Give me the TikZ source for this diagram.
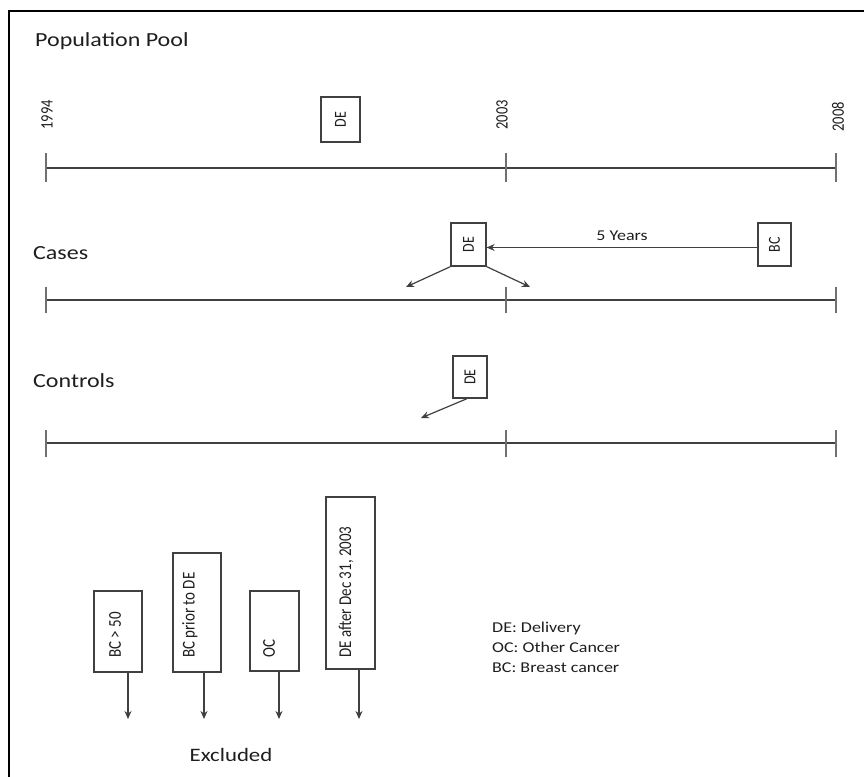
\documentclass[tikz,border=0pt]{standalone}
\usepackage{fontspec}
\setmainfont{Carlito}
\usetikzlibrary{arrows.meta}
\definecolor{ink}{HTML}{1E1E1E}
\definecolor{linec}{HTML}{404040}
\definecolor{tickc}{HTML}{707070}
\newcommand{\hx}[1]{\scalebox{1.2}[1]{#1}}
\newcommand{\vx}[1]{\scalebox{1}[1.2]{#1}}
\begin{document}
\begin{tikzpicture}[x=1pt,y=-1pt,
  lbl/.style={anchor=base west, inner sep=0, text=ink, font=\fontsize{20}{24}\selectfont},
  yearlbl/.style={rotate=90, inner sep=0, text=ink, font=\fontsize{14.5}{16}\selectfont},
  axis/.style={draw=linec, line width=1.5},
  tickmark/.style={draw=tickc, line width=2},
  ebox/.style={draw=linec, line width=1.3, rotate=90, inner sep=0, text=ink, font=\fontsize{14}{16}\selectfont},
  xbox/.style={draw=linec, line width=1.3, inner sep=0},
  xtext/.style={rotate=90, anchor=west, inner sep=0, text=ink, font=\fontsize{15}{17}\selectfont},
  arr/.style={draw=linec, line width=1.2, -{Stealth[length=8pt,width=7pt]}},
]
\useasboundingbox (0,0) rectangle (864,776);
\draw[line width=2.5, black] (9,11) rectangle (880,800);

% titles
\node[lbl] (pp) at (35,47) {\hx{Population Pool}};
\node[lbl] (cs) at (33,259) {\hx{Cases}};
\node[lbl] (ct) at (33,387) {\hx{Controls}};

% timeline 1
\coordinate (a1) at (46,168); \coordinate (b1) at (836,168);
\draw[axis] (a1) -- (b1);
\draw[tickmark] (46,153) -- (46,182);
\draw[tickmark] (506,153) -- (506,182);
\draw[tickmark] (836,153) -- (836,182);
\node[yearlbl] (y1) at (47,115) {\vx{1994}};
\node[yearlbl] (y2) at (502,115) {\vx{2003}};
\node[yearlbl] (y3) at (838,117) {\vx{2008}};
\node[ebox, minimum width=45, minimum height=39] (de1) at (340.5,119.5) {\vx{DE}};

% timeline 2
\coordinate (a2) at (46,300); \coordinate (b2) at (836,300);
\draw[axis] (a2) -- (b2);
\draw[tickmark] (46,287) -- (46,313);
\draw[tickmark] (506,287) -- (506,313);
\draw[tickmark] (836,287) -- (836,313);
\node[ebox, minimum width=43, minimum height=35] (de2) at (468.5,244.5) {\vx{DE}};
\node[ebox, minimum width=43, minimum height=33] (bc) at (774.5,244.5) {\vx{BC}};
% rotated boxes: north = visual left, south = visual right, west = visual bottom
\draw[arr] ([yshift=-3pt]bc.north) -- node[above=6pt, inner sep=0, text=ink, font=\fontsize{15}{17}\selectfont] (yrs) {\hx{5 Years}} ([yshift=-3pt]de2.south);
\coordinate (c1) at (406,287);
\coordinate (c2) at (530,287);
\draw[arr] (de2.north west) -- (c1);
\draw[arr] (de2.south west) -- (c2);

% timeline 3
\coordinate (a3) at (46,443); \coordinate (b3) at (836,443);
\draw[axis] (a3) -- (b3);
\draw[tickmark] (46,430) -- (46,457);
\draw[tickmark] (506,430) -- (506,457);
\draw[tickmark] (836,430) -- (836,457);
\node[ebox, minimum width=42, minimum height=34] (de3) at (470,377) {\vx{DE}};
\coordinate (c3) at (421,418);
\draw[arr] ([xshift=-3pt]de3.west) -- (c3);

% excluded
\node[xbox, minimum width=48, minimum height=81] (x1) at (118,631.5) {};
\node[xbox, minimum width=48, minimum height=119] (x2) at (197,612.5) {};
\node[xbox, minimum width=49, minimum height=80] (x3) at (274.5,631) {};
\node[xbox, minimum width=49, minimum height=172] (x4) at (350.5,583) {};
\node[xtext] (t1) at (115,658) {\vx{BC > 50}};
\node[xtext] (t2) at (190,658) {\vx{BC prior to DE}};
\node[xtext] (t3) at (269,658) {\vx{OC}};
\node[xtext] (t4) at (346,658) {\vx{DE after Dec 31, 2003}};
\coordinate (e1) at (128,719);
\coordinate (e2) at (204,719);
\coordinate (e3) at (279,719);
\coordinate (e4) at (359,719);
\draw[arr] (x1.south -| e1) -- (e1);
\draw[arr] (x2.south -| e2) -- (e2);
\draw[arr] (x3.south -| e3) -- (e3);
\draw[arr] (x4.south -| e4) -- (e4);
\node[inner sep=0, text=ink, font=\fontsize{19}{22}\selectfont] (exc) at (231,755) {\hx{Excluded}};

% legend
\node[anchor=north west, inner sep=0, align=left, text=ink, font=\fontsize{15}{20}\selectfont] (leg) at (492,622)
  {\hx{DE: Delivery}\\ \hx{OC: Other Cancer}\\ \hx{BC: Breast cancer}};
\end{tikzpicture}
\end{document}
